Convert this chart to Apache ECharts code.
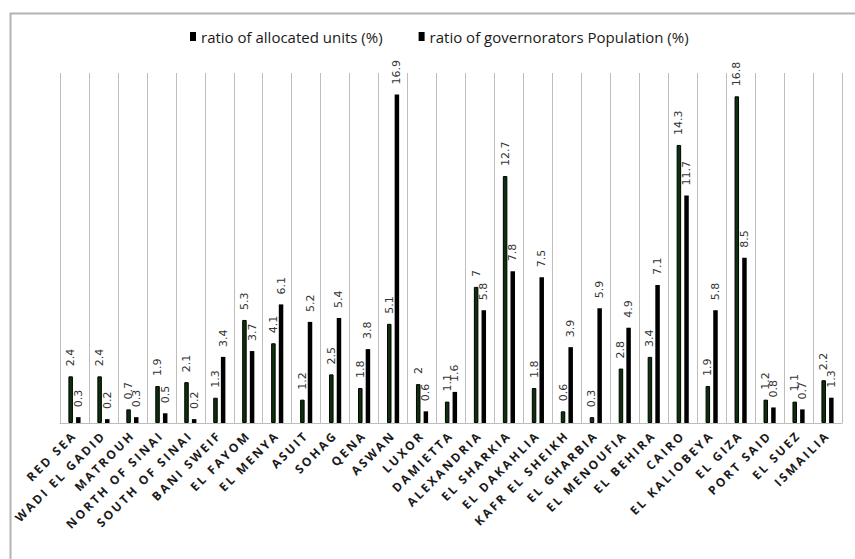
<!DOCTYPE html>
<html>
<head>
<meta charset="utf-8">
<script src="https://cdn.jsdelivr.net/npm/echarts@6/dist/echarts.min.js"></script>
<style>
html,body{margin:0;padding:0;background:#fff;}
#chart{width:855px;height:559px;}
#chart text[style*="bold"]{letter-spacing:2.4px;}
</style>
</head>
<body>
<div id="chart"></div>
<script>
const categories = ['RED SEA','WADI EL GADID','MATROUH','NORTH OF SINAI','SOUTH OF SINAI','BANI SWEIF','EL FAYOM','EL MENYA','ASUIT','SOHAG','QENA','ASWAN','LUXOR','DAMIETTA','ALEXANDRIA','EL SHARKIA','EL DAKAHLIA','KAFR EL SHEIKH','EL GHARBIA','EL MENOUFIA','EL BEHIRA','CAIRO','EL KALIOBEYA','EL GIZA','PORT SAID','EL SUEZ','ISMAILIA'];
const allocatedUnits = [2.4,2.4,0.7,1.9,2.1,1.3,5.3,4.1,1.2,2.5,1.8,5.1,2,1.1,7,12.7,1.8,0.6,0.3,2.8,3.4,14.3,1.9,16.8,1.2,1.1,2.2];
const governoratePopulation = [0.3,0.2,0.3,0.5,0.2,3.4,3.7,6.1,5.2,5.4,3.8,16.9,0.6,1.6,5.8,7.8,7.5,3.9,5.9,4.9,7.1,11.7,5.8,8.5,0.8,0.7,1.3];
const seriesNames = ['ratio of allocated units (%)','ratio of governorators Population (%)'];

const chart = echarts.init(document.getElementById('chart'), null, {renderer:'svg'});
const valueLabel = {
  show: true, position: 'top', rotate: 90, distance: 10,
  align: 'left', verticalAlign: 'middle',
  fontFamily: 'DejaVu Sans', fontSize: 11, color: '#333'
};
chart.setOption({
  animation: false,
  backgroundColor: '#fff',
  graphic: [{
    type: 'rect', left: 8, top: 11, z: -1,
    shape: {width: 900, height: 600},
    style: {fill: 'none', stroke: '#b4b4b4', lineWidth: 2}
  }],
  legend: {
    left: 190, top: 29, padding: 0, itemWidth: 6, itemHeight: 9, itemGap: 36,
    icon: 'rect',
    textStyle: {fontFamily: 'Open Sans', fontSize: 15, color: '#1a1a1a'},
    data: seriesNames.map(n => ({name: n, itemStyle: {color: '#000', borderWidth: 0}}))
  },
  grid: {left: 60, right: 13, top: 73, bottom: 136},
  xAxis: {
    type: 'category', data: categories,
    axisLine: {lineStyle: {color: '#bdbdbd', width: 1}},
    axisTick: {show: false},
    splitLine: {show: true, interval: 0, lineStyle: {color: '#bdbdbd', width: 1}},
    axisLabel: {
      interval: 0, rotate: 45, margin: 10,
      fontFamily: 'Open Sans', fontWeight: 'bold', fontSize: 12, color: '#1a1a1a'
    }
  },
  yAxis: {type: 'value', min: 0, max: 18, show: false},
  series: [{
    name: seriesNames[0], type: 'bar', data: allocatedUnits,
    barWidth: 4.5, barGap: '70%',
    itemStyle: {color: '#0b300b', borderColor: '#000', borderWidth: 1},
    label: valueLabel
  }, {
    name: seriesNames[1], type: 'bar', data: governoratePopulation,
    barWidth: 4.5, barGap: '70%',
    itemStyle: {color: '#000'},
    label: valueLabel
  }]
});
</script>
</body>
</html>
